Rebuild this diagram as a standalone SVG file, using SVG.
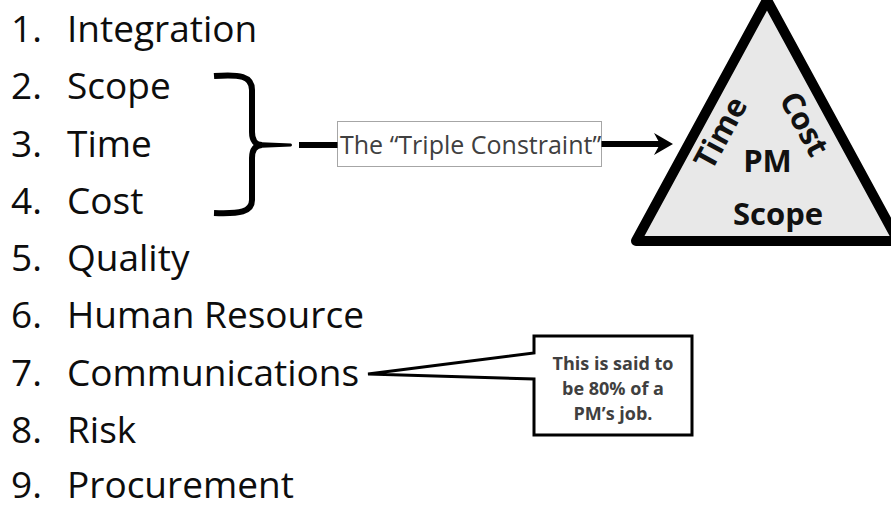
<svg xmlns="http://www.w3.org/2000/svg" width="891" height="508" viewBox="0 0 891 508">
  <style>
    .item { font-family: "Open Sans", "Liberation Sans", sans-serif; font-size: 37px; fill: #0d0d0d; }
    .tri { font-family: "Open Sans", "Liberation Sans", sans-serif; font-size: 31px; font-weight: bold; fill: #111; text-anchor: middle; }
    .label { font-family: "Open Sans", "Liberation Sans", sans-serif; font-size: 25px; fill: #404040; }
    .note { font-family: "Open Sans", "Liberation Sans", sans-serif; font-size: 18px; font-weight: bold; fill: #404040; text-anchor: middle; }
    .thick { fill: none; stroke: #000; stroke-width: 6; }
  </style>
  <defs>
    <marker id="arrow" markerUnits="userSpaceOnUse" markerWidth="30" markerHeight="30" viewBox="-10 -15 30 30" refX="0" refY="0" orient="auto" overflow="visible">
      <path d="M11,0 L-8,-11 L-2,0 L-8,11 Z" fill="#000"/>
    </marker>
  </defs>
  <rect width="891" height="508" fill="#fff"/>

  <g id="list">
    <text class="item" x="11" y="42">1.</text><text class="item" x="67" y="42">Integration</text>
    <text class="item" x="11" y="99.3">2.</text><text class="item" x="67" y="99.3">Scope</text>
    <text class="item" x="11" y="156.5">3.</text><text class="item" x="67" y="156.5">Time</text>
    <text class="item" x="11" y="213.8">4.</text><text class="item" x="67" y="213.8">Cost</text>
    <text class="item" x="11" y="271">5.</text><text class="item" x="67" y="271">Quality</text>
    <text class="item" x="11" y="328.3">6.</text><text class="item" x="67" y="328.3">Human Resource</text>
    <text class="item" x="11" y="385.5">7.</text><text class="item" x="67" y="385.5">Communications</text>
    <text class="item" x="11" y="442.8">8.</text><text class="item" x="67" y="442.8">Risk</text>
    <text class="item" x="11" y="497.5">9.</text><text class="item" x="67" y="497.5">Procurement</text>
  </g>

  <g id="brace">
    <path class="thick" d="M214,76 C240,74 252,76 252,90 L252,132 C252,141 256,145 262,145 C256,145 252,149 252,158 L252,200 C252,212 240,214 214,213"/>
    <path d="M256,142 L291,143.5 Q293,145 291,146.5 L256,148 Z" fill="#000"/>
  </g>

  <g id="triple-constraint">
    <rect x="337.5" y="121.5" width="264" height="45" fill="#fff" stroke="#a6a6a6" stroke-width="1"/>
    <text class="label" x="340" y="154">The “Triple Constraint”</text>
  </g>

  <g id="triangle">
    <polygon points="767,0 898,241 636,241" fill="#e8e8e8" stroke="#000" stroke-width="10" stroke-linejoin="round"/>
    <text class="tri" transform="translate(730,138) rotate(-61.5)" x="0" y="0">Time</text>
    <text class="tri" transform="translate(795,129) rotate(61.5)" x="0" y="0">Cost</text>
    <text class="tri" x="767.5" y="172">PM</text>
    <text class="tri" x="778" y="225">Scope</text>
  </g>

  <g id="callout">
    <path d="M368,374 L534,353 L534,336 L692,336 L692,435 L534,435 L534,379 Z" fill="#fff" stroke="#000" stroke-width="3" stroke-linejoin="miter"/>
    <text class="note" x="613" y="370">This is said to</text>
    <text class="note" x="613" y="395">be 80% of a</text>
    <text class="note" x="613" y="420">PM’s job.</text>
  </g>

  <g id="connectors">
    <line class="thick" x1="299" y1="145" x2="337.5" y2="145"/>
    <line class="thick" x1="601.5" y1="144" x2="662" y2="144" marker-end="url(#arrow)"/>
  </g>
</svg>
